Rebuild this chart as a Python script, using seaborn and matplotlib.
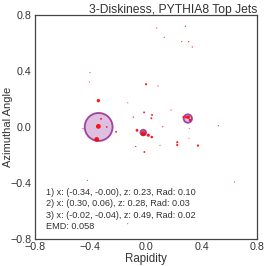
import numpy as np
import pandas as pd
import matplotlib

matplotlib.use("Agg")
import matplotlib.pyplot as plt
from matplotlib.patches import Circle
import seaborn as sns

# частицы джета: rapidity, azimuthal angle, вес (доля pT)
rap = [0.077, 0.282, 0.131, 0.256, 0.306, 0.332, -0.402, -0.407, 0.0, 0.086,
       -0.342, -0.131, -0.014, 0.043, 0.038, 0.179, -0.091, 0.287, 0.303, 0.315,
       -0.342, -0.323, -0.282, -0.452, -0.215, -0.065, -0.019, 0.016, 0.041, 0.12,
       0.519, 0.31, -0.354, -0.074, 0.1, 0.224, 0.224, 0.373, 0.308, -0.012,
       -0.421, 0.636, -0.131, 0.267]
phi = [0.707, 0.719, 0.64, 0.609, 0.609, 0.571, 0.388, 0.321, 0.305, 0.293,
       0.188, 0.172, 0.104, 0.086, 0.062, 0.121, 0.07, 0.069, 0.069, 0.05,
       0.004, 0.058, 0.0, -0.012, -0.035, -0.024, -0.047, -0.059, -0.072, 0.002,
       0.009, -0.01, -0.089, -0.14, -0.131, -0.109, -0.129, -0.133, -0.081, -0.179,
       -0.381, -0.393, -0.691, 0.071]
weight = [0.012, 0.014, 0.01, 0.012, 0.012, 0.014, 0.01, 0.01, 0.04, 0.012,
          0.1, 0.01, 0.03, 0.03, 0.03, 0.012, 0.015, 0.05, 0.1, 0.05,
          0.2, 0.03, 0.025, 0.012, 0.03, 0.07, 0.2, 0.09, 0.06, 0.012,
          0.012, 0.008, 0.2, 0.015, 0.01, 0.04, 0.04, 0.045, 0.008, 0.03,
          0.01, 0.01, 0.01, 0.025]

# диски: центр, радиус
disk_x = [-0.34, 0.30, -0.02]
disk_y = [-0.00, 0.06, -0.04]
disk_z = [0.23, 0.28, 0.49]
disk_r = [0.10, 0.03, 0.02]
emd = 0.058

df = pd.DataFrame({"rap": rap, "phi": phi, "w": weight})

sns.set_style("white")
plt.rcParams["font.family"] = ["Liberation Sans", "DejaVu Sans"]
plt.rcParams["text.color"] = "#333333"
plt.rcParams["axes.labelcolor"] = "#333333"
plt.rcParams["xtick.color"] = "#333333"
plt.rcParams["ytick.color"] = "#333333"

fig = plt.figure(figsize=(2.66, 2.66), dpi=100)
ax = fig.add_axes([0.13, 0.1015, 0.838, 0.8425])

for x, y, r in zip(disk_x, disk_y, disk_r):
    ax.add_patch(Circle((x, y), r, facecolor=(0.5, 0, 0.5, 0.25),
                        edgecolor=(0.5, 0, 0.5, 0.7), lw=1.3, zorder=1))

sns.scatterplot(data=df, x="rap", y="phi", s=df["w"] * 60, color="red",
                alpha=0.9, linewidth=0, legend=False, ax=ax, zorder=2)

ax.set_xlim(-0.8, 0.8)
ax.set_ylim(-0.8, 0.8)
ax.set_xticks([-0.8, -0.4, 0.0, 0.4, 0.8])
ax.set_yticks([-0.8, -0.4, 0.0, 0.4, 0.8])
ax.tick_params(labelsize=7.7, length=0, pad=2)
ax.set_xlabel("Rapidity", fontsize=8.3, labelpad=1)
ax.set_ylabel("Azimuthal Angle", fontsize=8.0)
ax.yaxis.set_label_coords(-0.098, 0.5)
ax.set_title("3-Diskiness, PYTHIA8 Top Jets", loc="right", fontsize=8.7, pad=1.5)
for sp in ax.spines.values():
    sp.set_color("#444444")
    sp.set_linewidth(0.9)

lines = [f"{i + 1}) x: ({x:.2f}, {y:.2f}), z: {z:.2f}, Rad: {r:.2f}"
         for i, (x, y, z, r) in enumerate(zip(disk_x, disk_y, disk_z, disk_r))]
lines.append(f"EMD: {emd:.3f}")
ax.text(0.05, 0.228, "\n".join(lines), transform=ax.transAxes,
        fontsize=6.6, va="top", ha="left", linespacing=1.33)

fig.savefig("out.png", dpi=100)
plt.close(fig)
